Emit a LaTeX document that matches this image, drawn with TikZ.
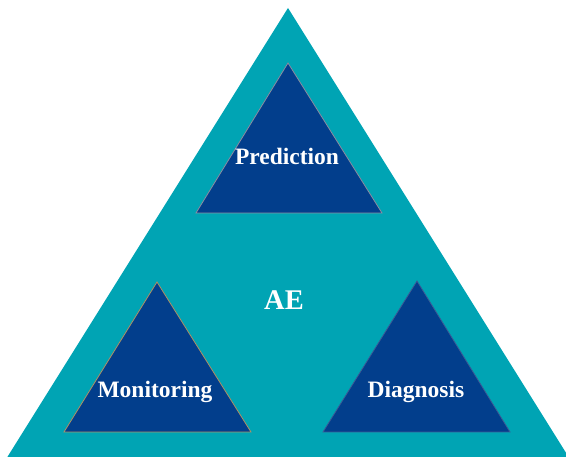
\documentclass[tikz,border=0pt]{standalone}
\usepackage{fontspec}
\setmainfont{Liberation Serif}
\definecolor{tealbg}{RGB}{0,164,180}
\definecolor{darkblu}{RGB}{2,62,140}
\definecolor{edgegray}{RGB}{140,140,160}
\definecolor{edgetan}{RGB}{176,144,100}
\definecolor{edgeblu}{RGB}{60,90,150}
\begin{document}
\begin{tikzpicture}[x=1pt,y=-1pt,
  inner/.style={fill=darkblu,line width=0.8pt},
  lbl/.style={text=white,font=\bfseries\fontsize{23.5}{26}\selectfont,anchor=base,inner sep=0pt}]
\useasboundingbox (0,0) rectangle (566,457);
\begin{scope}
\clip (0,0) rectangle (566,457);
\coordinate (bigA) at (288,8);
\coordinate (bigL) at (3,464);
\coordinate (bigR) at (573,464);
\fill[tealbg] (bigA) -- (bigL) -- (bigR) -- cycle;
\end{scope}
% Prediction
\coordinate (pA) at (288,63);
\coordinate (pL) at (196,213);
\coordinate (pR) at (382,213);
\draw[inner,draw=edgegray] (pA) -- (pL) -- (pR) -- cycle;
% Monitoring
\coordinate (mA) at (157,282);
\coordinate (mL) at (64,432);
\coordinate (mR) at (251,432);
\draw[inner,draw=edgetan] (mA) -- (mL) -- (mR) -- cycle;
% Diagnosis
\coordinate (dA) at (417,281);
\coordinate (dL) at (323,432);
\coordinate (dR) at (510,432);
\draw[inner,draw=edgeblu] (dA) -- (dL) -- (dR) -- cycle;
\node[lbl] (pred) at (287,165) {Prediction};
\node[lbl] (mon) at (155,398) {Monitoring};
\node[lbl] (diag) at (416,398) {Diagnosis};
\node[lbl,font=\bfseries\fontsize{28.5}{30}\selectfont] (ae) at (284,310) {AE};
\end{tikzpicture}
\end{document}
